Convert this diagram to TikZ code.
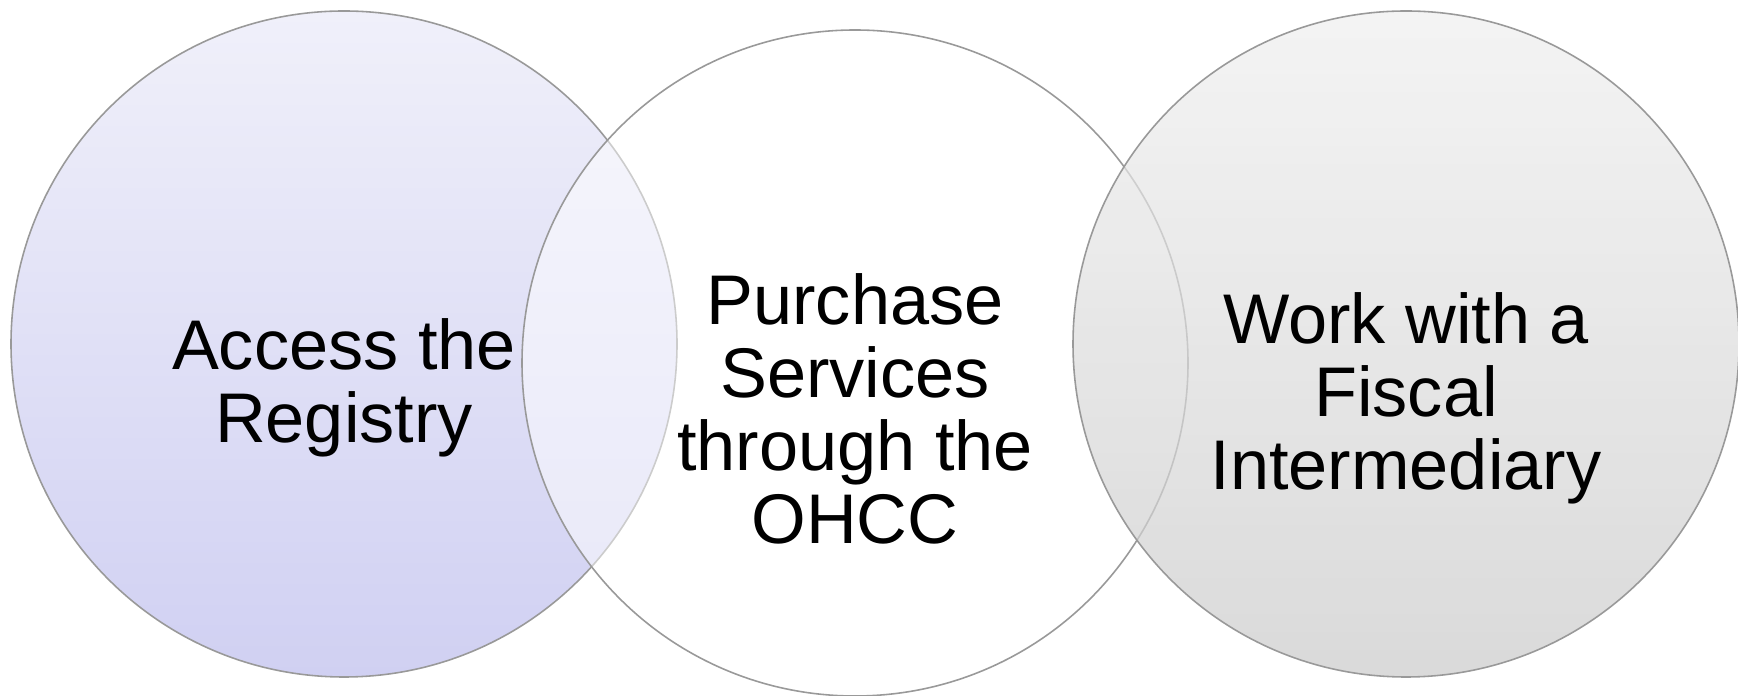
\documentclass[tikz,border=0pt]{standalone}
\usepackage{fontspec}
\setmainfont{Liberation Sans}
\definecolor{regtop}{HTML}{F0F0FA}
\definecolor{regbot}{HTML}{D0D0F2}
\definecolor{fisctop}{HTML}{EFEFEF}
\definecolor{fiscbot}{HTML}{CACACA}
\begin{document}
\begin{tikzpicture}[scale=1,
  ring/.style={circle,draw=black!40,line width=0.45pt,minimum size=6.66cm,inner sep=0pt},
  lbl/.style={align=center,font=\fontsize{20}{20.8}\selectfont,inner sep=0pt}]
\useasboundingbox (0,0) rectangle (17.38,6.96);

\node (reg) at (3.44,3.52) [ring,top color=regtop,bottom color=regbot]{};
\node (ohcc) at (8.55,3.33) [ring,fill=white,fill opacity=0.5]{};
\node (fisc) at (14.06,3.52) [ring,top color=fisctop,bottom color=fiscbot,fill opacity=0.7]{};

\node (regtxt) at (3.44,3.08) [lbl]{Access the\\Registry};
\node (ohcctxt) at (8.55,2.87) [lbl]{Purchase\\Services\\through the\\OHCC};
\node (fisctxt) at (14.06,2.98) [lbl]{Work with a\\Fiscal\\Intermediary};

\end{tikzpicture}
\end{document}
